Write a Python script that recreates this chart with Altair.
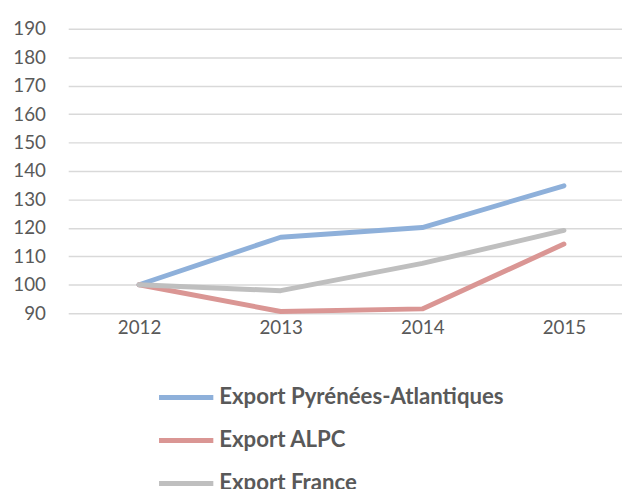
import altair as alt
import pandas as pd

years = [2012, 2013, 2014, 2015]
series = ["Export Pyrénées-Atlantiques", "Export ALPC", "Export France"]
pa = [100, 116.7, 120.1, 134.8]
alpc = [100, 90.6, 91.5, 114.3]
france = [100, 97.9, 107.5, 119.1]
colors = ["#8EB0DA", "#DA9694", "#BFBFBF"]

rows = []
for name, vals in zip(series, [pa, alpc, france]):
    for y, v in zip(years, vals):
        rows.append({"year": y, "value": v, "series": name})
df = pd.DataFrame(rows)

FONT = "Lato"
chart = alt.Chart(df).mark_line(strokeWidth=5, strokeCap="round", strokeJoin="round").encode(
    x=alt.X("year:Q", title=None,
            scale=alt.Scale(domain=[2011.5, 2015.41], nice=False, zero=False),
            axis=alt.Axis(values=years, format="d", labelAngle=0, ticks=False, domain=False, grid=False,
                          labelPadding=6, labelFontSize=19, labelColor="#595959", labelFont=FONT,
                          labelFlush=False)),
    y=alt.Y("value:Q", title=None,
            scale=alt.Scale(domain=[90, 190], nice=False, zero=False),
            axis=alt.Axis(values=list(range(90, 191, 10)), ticks=False, domain=False,
                          gridColor="#D9D9D9", gridWidth=1.5, labelPadding=23,
                          labelFontSize=19, labelColor="#595959", labelFont=FONT)),
    color=alt.Color("series:N", sort=series,
                    scale=alt.Scale(domain=series, range=colors),
                    legend=alt.Legend(title=None, orient="none", legendX=106, legendY=360,
                                      direction="vertical", symbolType="M-2.5,0H2.5",
                                      symbolSize=484, symbolStrokeWidth=5,
                                      rowPadding=18.5, labelFontSize=22.5, labelFontWeight="bold",
                                      labelColor="#595959", labelFont=FONT, labelLimit=400,
                                      labelOffset=20)),
    order=alt.Order("series:N"),
).properties(
    width=561, height=288,
    autosize=alt.AutoSizeParams(type="none"),
    padding={"left": 61, "top": 18, "right": 0, "bottom": 175},
).configure_view(stroke=None)

chart.save("out.html", embed_options={"renderer": "svg", "actions": False})
